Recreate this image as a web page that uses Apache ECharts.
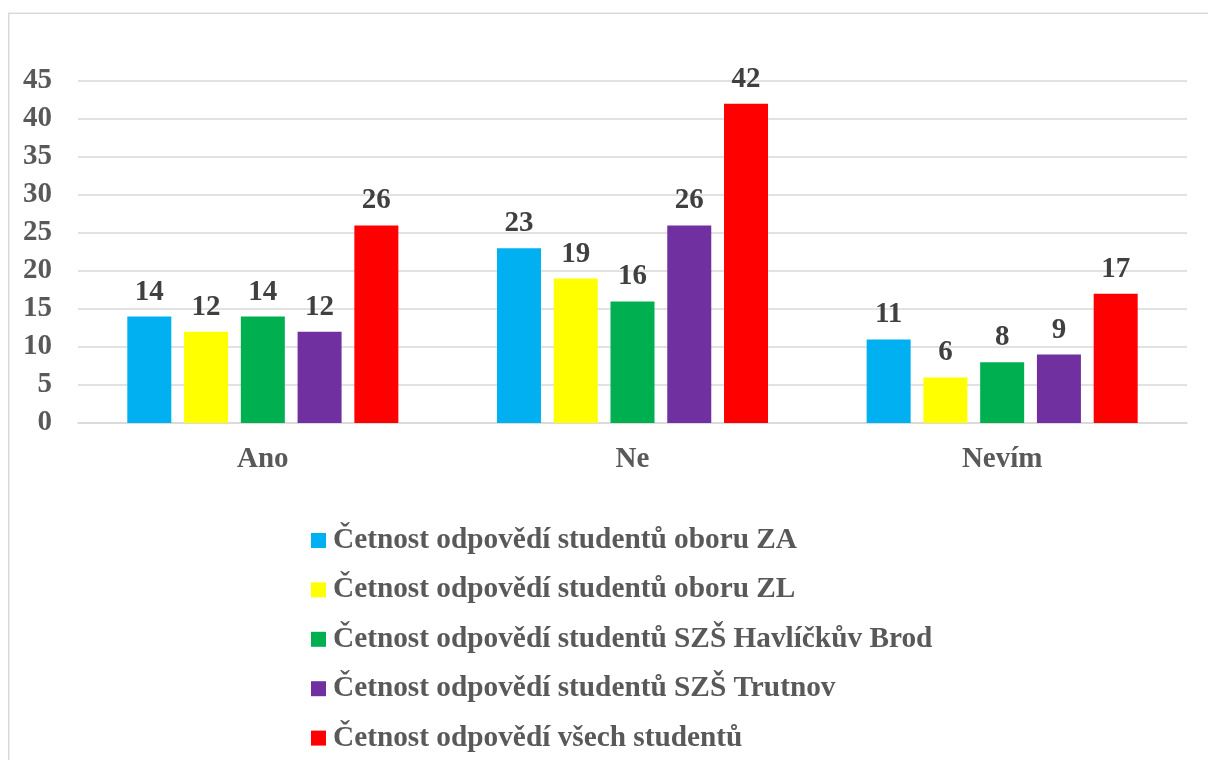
<!DOCTYPE html>
<html>
<head>
<meta charset="utf-8">
<script src="https://cdn.jsdelivr.net/npm/echarts@6/dist/echarts.min.js"></script>
<style>
  html, body { margin: 0; padding: 0; background: #fff; }
  #chart { width: 1208px; height: 760px; }
</style>
</head>
<body>
<div id="chart"></div>
<script>
// Answer categories
const categories = ['Ano', 'Ne', 'Nevím'];

// Counts of answers per group
const seriesNames = [
  'Četnost odpovědí studentů oboru ZA',
  'Četnost odpovědí studentů oboru ZL',
  'Četnost odpovědí studentů SZŠ Havlíčkův Brod',
  'Četnost odpovědí studentů SZŠ Trutnov',
  'Četnost odpovědí všech studentů'
];
const valuesZA = [14, 23, 11];
const valuesZL = [12, 19, 6];
const valuesHB = [14, 16, 8];
const valuesTrutnov = [12, 26, 9];
const valuesAll = [26, 42, 17];

const seriesColors = ['#00B0F0', '#FFFF00', '#00B050', '#7030A0', '#FF0000'];
const seriesValues = [valuesZA, valuesZL, valuesHB, valuesTrutnov, valuesAll];

const FONT = '"Liberation Serif", "Times New Roman", serif';

const chart = echarts.init(document.getElementById('chart'), null, { renderer: 'canvas' });

chart.setOption({
  backgroundColor: '#ffffff',
  animation: false,
  graphic: [{
    type: 'rect',
    silent: true,
    shape: { x: 8.75, y: 13.25, width: 1400, height: 900 },
    style: { fill: 'none', stroke: '#d9d9d9', lineWidth: 1.5 }
  }],
  grid: { left: 78, right: 21, top: 81, bottom: 337, containLabel: false },
  legend: {
    orient: 'vertical',
    left: 306,
    top: 521,
    itemWidth: 15,
    itemHeight: 15,
    itemGap: 20.4,
    icon: 'rect',
    data: seriesNames,
    textStyle: {
      fontFamily: FONT,
      fontSize: 29.3,
      fontWeight: 'bold',
      color: '#595959',
      padding: [0, 0, 0, 2]
    }
  },
  xAxis: {
    type: 'category',
    data: categories,
    axisLine: { show: true, lineStyle: { color: '#d9d9d9', width: 1.5 } },
    axisTick: { show: false },
    axisLabel: {
      margin: 22,
      fontFamily: FONT,
      fontSize: 29,
      fontWeight: 'bold',
      color: '#595959'
    }
  },
  yAxis: {
    type: 'value',
    min: 0,
    max: 45,
    interval: 5,
    axisLine: { show: false },
    axisTick: { show: false },
    splitLine: { lineStyle: { color: '#d9d9d9', width: 1.5 } },
    axisLabel: {
      margin: 26,
      fontFamily: FONT,
      fontSize: 29,
      fontWeight: 'bold',
      color: '#595959'
    }
  },
  series: seriesNames.map((name, i) => ({
    name: name,
    type: 'bar',
    data: seriesValues[i],
    barWidth: 44,
    barGap: '29%',
    itemStyle: { color: seriesColors[i] },
    label: {
      show: true,
      position: 'top',
      distance: 10,
      fontFamily: FONT,
      fontSize: 29,
      fontWeight: 'bold',
      color: '#404040'
    }
  }))
});
</script>
</body>
</html>
